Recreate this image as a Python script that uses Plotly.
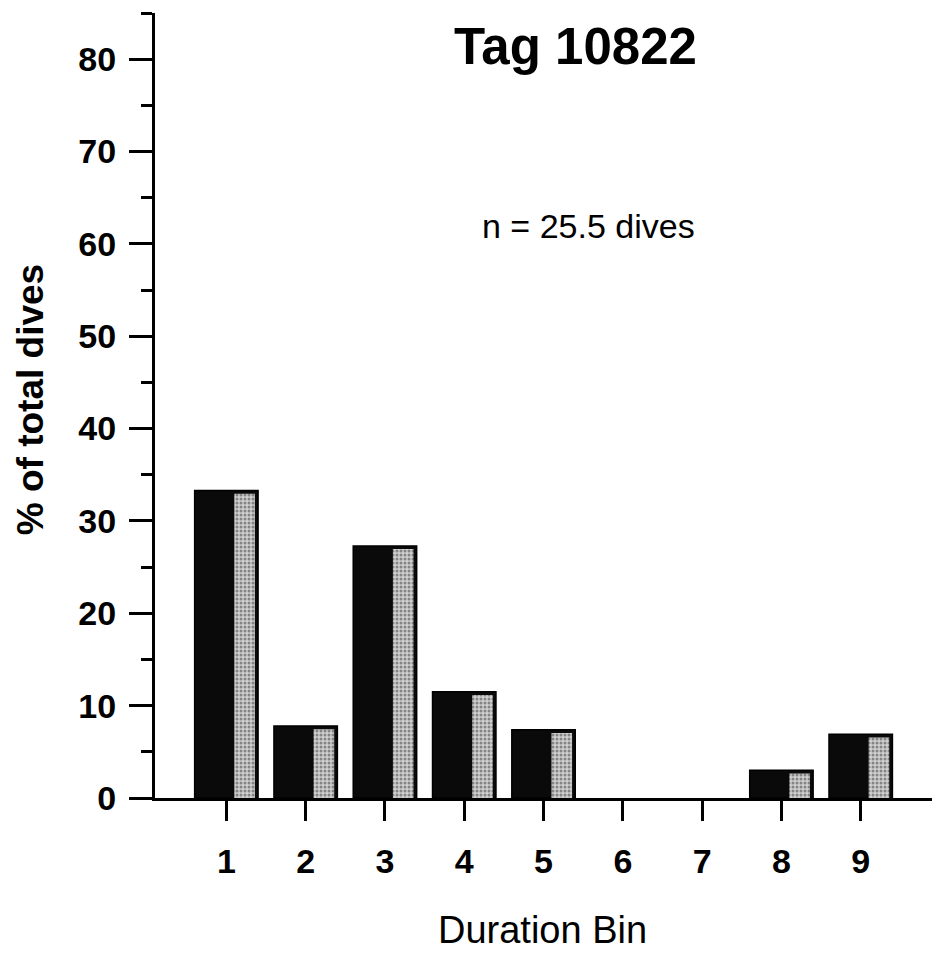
import plotly.graph_objects as go

bins = [1, 2, 3, 4, 5, 6, 7, 8, 9]
pct_dives = [33.3, 7.8, 27.3, 11.5, 7.4, 0, 0, 3.0, 6.9]
y_ticks = [0, 10, 20, 30, 40, 50, 60, 70, 80]
title_text = "Tag 10822"
n_text = "n = 25.5 dives"

FONT = "Liberation Sans, Arial, sans-serif"

# empty bins draw nothing
bar_vals = [v if v > 0 else None for v in pct_dives]
# light stripe slightly shorter than the dark bar (3-D look)
stripe = [v - 0.35 if v > 0 else None for v in pct_dives]

fig = go.Figure()
fig.add_trace(go.Bar(
    x=bins, y=bar_vals, width=0.8, offset=-0.4,
    marker=dict(color="#0a0a0a", line=dict(color="#000000", width=1.5)),
    showlegend=False, hoverinfo="skip"))
fig.add_trace(go.Bar(
    x=bins, y=stripe, width=0.26, offset=0.1,
    marker=dict(color="#9a9a9a", line=dict(width=0),
                pattern=dict(shape=".", fgcolor="#3a3a3a", bgcolor="#cfcfcf",
                             size=4, solidity=0.45)),
    showlegend=False, hoverinfo="skip"))

fig.update_layout(
    width=940, height=957,
    margin=dict(l=147, r=8, t=5, b=167),
    paper_bgcolor="white", plot_bgcolor="white",
    barmode="overlay",
    font=dict(family=FONT, color="black"),
    xaxis=dict(range=[0.1, 10.0], tickmode="array", tickvals=bins,
               ticktext=[str(b) for b in bins],
               showgrid=False, zeroline=False, showline=True,
               linecolor="black", linewidth=3,
               ticks="outside", ticklen=20, tickwidth=3, tickcolor="black",
               ticklabelstandoff=11,
               tickfont=dict(family=FONT, size=34, color="black", weight="bold")),
    yaxis=dict(range=[0, 85], tickmode="array", tickvals=y_ticks,
               showgrid=False, zeroline=False, showline=True,
               linecolor="black", linewidth=3,
               ticks="outside", ticklen=23, tickwidth=3, tickcolor="black",
               ticklabelstandoff=6,
               minor=dict(dtick=5, ticks="outside", ticklen=11, tickwidth=3,
                          tickcolor="black", showgrid=False),
               tickfont=dict(family=FONT, size=34, color="black", weight="bold")),
    annotations=[
        dict(text=title_text, x=0.536, y=0.957, xref="paper", yref="paper",
             showarrow=False, xanchor="center", yanchor="middle",
             font=dict(family=FONT, size=51, color="black", weight="bold")),
        dict(text=n_text, x=0.552, y=0.729, xref="paper", yref="paper",
             showarrow=False, xanchor="center", yanchor="middle",
             font=dict(family=FONT, size=34, color="black")),
        dict(text="Duration Bin", x=0.493, y=-0.168, xref="paper", yref="paper",
             showarrow=False, xanchor="center", yanchor="middle",
             font=dict(family=FONT, size=38, color="black")),
        dict(text="% of total dives", x=-0.159, y=0.507, xref="paper", yref="paper",
             showarrow=False, xanchor="center", yanchor="middle", textangle=-90,
             font=dict(family=FONT, size=37, color="black", weight="bold")),
    ],
)

fig.write_html("out.html")
